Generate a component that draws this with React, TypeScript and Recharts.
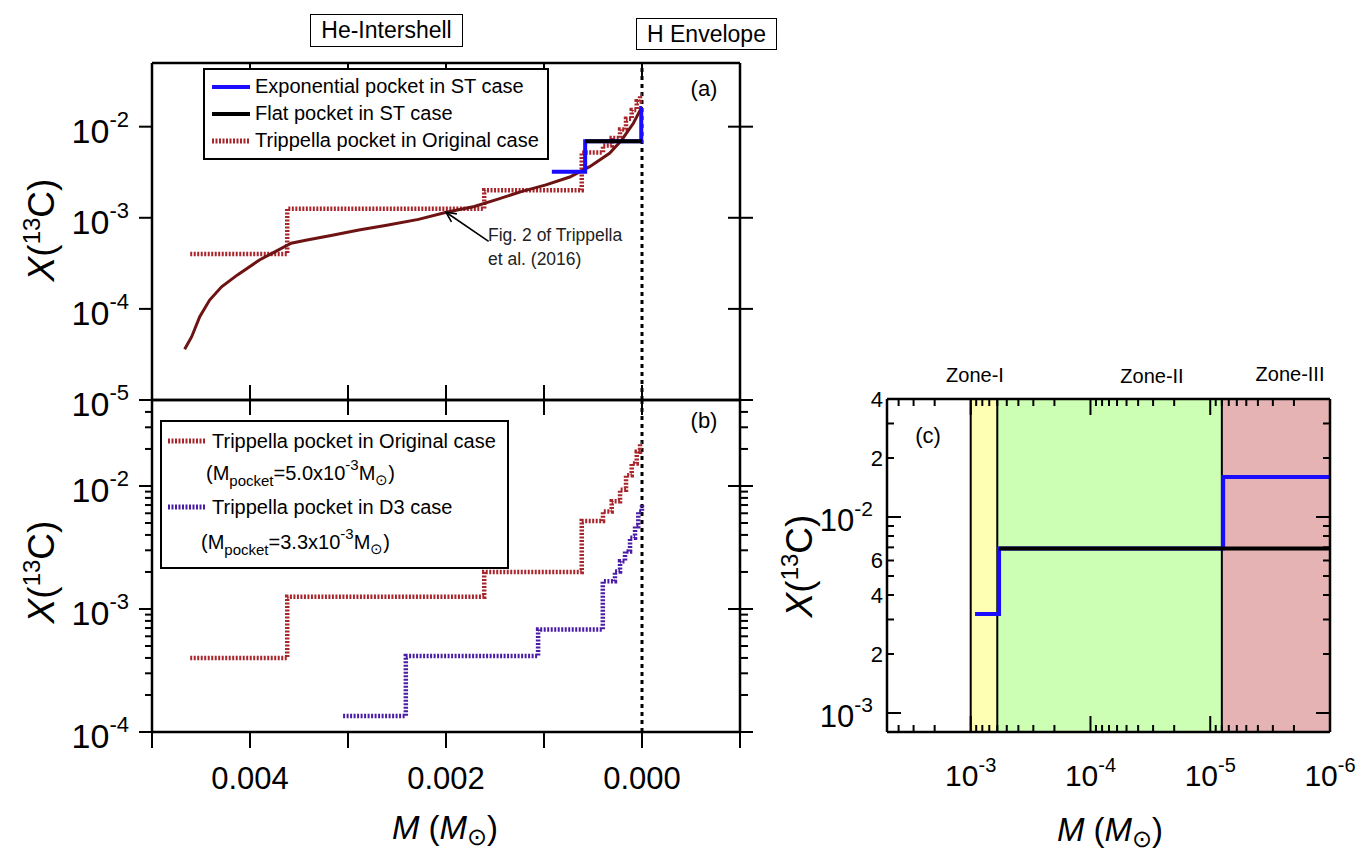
import { LineChart, Line, XAxis, YAxis, ReferenceLine, ReferenceArea, Legend } from 'recharts'

const FONT = '"Liberation Sans", Arial, Helvetica, sans-serif'
const BLUE = '#1a0dff'
const RED = '#a8252b'
const PURPLE = '#4a1ca6'
const CURVE = '#6e1313'

// Fig. 2 of Trippella et al. (2016): mass below the H envelope (Msun) vs X(13C)
const fig2M = [0.004667, 0.004595, 0.004513, 0.004412, 0.00429, 0.004128, 0.003904, 0.003742, 0.00358, 0.003418, 0.003173, 0.002889, 0.002605, 0.002281, 0.001996, 0.001711, 0.001469, 0.001224, 0.00098, 0.000737, 0.000534, 0.000331, 0.000209, 0.000088, 0]
const fig2X = [3.6e-5, 4.95e-5, 8.2e-5, 1.25e-4, 1.75e-4, 2.36e-4, 3.44e-4, 4.25e-4, 5.25e-4, 5.7e-4, 6.4e-4, 7.35e-4, 8.3e-4, 9.6e-4, 1.15e-3, 1.33e-3, 1.6e-3, 1.95e-3, 2.3e-3, 2.8e-3, 3.64e-3, 5.1e-3, 7.1e-3, 1.09e-2, 1.66e-2]

// step pockets: start of each step (mass) and its level
const origM = [0.00461, 0.00362, 0.00161, 0.000615, 0.000398, 0.000309, 0.000224, 0.000163, 0.000105, 0.000054, 0.00002, 0]
const origX = [4.0e-4, 1.26e-3, 2.0e-3, 5.2e-3, 6.2e-3, 7.5e-3, 9.3e-3, 1.22e-2, 1.52e-2, 1.9e-2, 2.2e-2, 2.2e-2]
const d3M = [0.00305, 0.00241, 0.00106, 0.0004, 0.000276, 0.000224, 0.000173, 0.000122, 0.000071, 0.000038, 0]
const d3X = [1.35e-4, 4.15e-4, 6.8e-4, 1.68e-3, 2.02e-3, 2.44e-3, 2.94e-3, 3.8e-3, 4.7e-3, 6.2e-3, 7.0e-3]
const expM = [9.2e-4, 5.8e-4, 7.8e-6, 1e-6]
const expX = [3.2e-3, 6.9e-3, 1.6e-2, 1.6e-2]
const flatM = [5.8e-4, 1e-6]
const flatX = [6.9e-3, 6.9e-3]

// zones of panel (c)
const zoneEdges = [1e-3, 6e-4, 8e-6, 1e-6]
const zoneColors = ['#ffffb4', '#ccffb4', '#e5b3b3']
const zoneNames = ['Zone-I', 'Zone-II', 'Zone-III']

const massTicks = [0.005, 0.004, 0.003, 0.002, 0.001, 0, -0.001]
const massLabels = [0.004, 0.002, 0]
const aYTicks = [1e-5, 1e-4, 1e-3, 1e-2]
const bYTicks = [1e-4, 2e-4, 3e-4, 4e-4, 5e-4, 6e-4, 7e-4, 8e-4, 9e-4, 1e-3, 2e-3, 3e-3, 4e-3, 5e-3, 6e-3, 7e-3, 8e-3, 9e-3, 1e-2, 2e-2, 3e-2, 4e-2, 5e-2]
const cXTicks = [1e-6, 2e-6, 3e-6, 4e-6, 5e-6, 6e-6, 7e-6, 8e-6, 9e-6, 1e-5, 2e-5, 3e-5, 4e-5, 5e-5, 6e-5, 7e-5, 8e-5, 9e-5, 1e-4, 2e-4, 3e-4, 4e-4, 5e-4, 6e-4, 7e-4, 8e-4, 9e-4, 1e-3, 2e-3, 3e-3, 4e-3, 5e-3]
const cYTicks = [1e-3, 2e-3, 3e-3, 4e-3, 5e-3, 6e-3, 7e-3, 8e-3, 9e-3, 1e-2, 2e-2, 3e-2, 4e-2]
const cYDigits = [4e-2, 2e-2, 6e-3, 4e-3, 2e-3]

const pts = (ms: number[], xs: number[]) => ms.map((m, i) => ({ m, x: xs[i] }))
const isMajor = (v: number) => {
  const l = Math.log10(v)
  return Math.abs(l - Math.round(l)) < 1e-6
}
const near = (a: number, b: number) => Math.abs(a - b) < 1e-9

const Pow = ({ x, y, v, anchor, size, sup }: any) => (
  <text x={x} y={y} textAnchor={anchor} fontFamily={FONT} fontSize={size} fill="#000" stroke="none">
    <tspan>10</tspan>
    <tspan fontSize={sup} dy={-size * 0.47}>{String(Math.round(Math.log10(v)))}</tspan>
  </text>
)

// tick renderer: [inside, outside] lengths for major / minor ticks
function makeTick(side: string, major: number[], minor: number[], log: boolean, label?: (v: number, x: number, y: number) => any) {
  return (props: any) => {
    const { x, y, payload } = props
    const v = payload.value
    const [inn, out] = !log || isMajor(v) ? major : minor
    let seg = { x1: x, x2: x, y1: y, y2: y }
    if (side === 'left') seg = { x1: x - out, x2: x + inn, y1: y, y2: y }
    if (side === 'right') seg = { x1: x - inn, x2: x + out, y1: y, y2: y }
    if (side === 'top') seg = { x1: x, x2: x, y1: y - out, y2: y + inn }
    if (side === 'bottom') seg = { x1: x, x2: x, y1: y - inn, y2: y + out }
    return (
      <g>
        <line {...seg} stroke="#000" strokeWidth={2} />
        {label ? label(v, x, y) : null}
      </g>
    )
  }
}

const powLeft = (v: number, x: number, y: number) =>
  isMajor(v) ? <Pow x={x - 23} y={y + 16} v={v} anchor="end" size={34} sup={22} /> : null
const massLabel = (v: number, x: number, y: number) =>
  massLabels.some((m) => near(m, v)) ? (
    <text x={x} y={y + 57} textAnchor="middle" fontFamily={FONT} fontSize={31} fill="#000">{v.toFixed(3)}</text>
  ) : null
const cYLabel = (v: number, x: number, y: number) => {
  if (isMajor(v)) return <Pow x={x - 14} y={y + 14} v={v} anchor="end" size={31} sup={21} />
  if (cYDigits.some((d) => near(d, v))) {
    const d = Math.round(v / Math.pow(10, Math.floor(Math.log10(v) + 1e-9)))
    return <text x={x - 4} y={y + 8} textAnchor="end" fontFamily={FONT} fontSize={22} fill="#000">{d}</text>
  }
  return null
}
const cXLabel = (v: number, x: number, y: number) =>
  isMajor(v) && v < 2e-3 ? <Pow x={x} y={y + 54} v={v} anchor="middle" size={30} sup={20} /> : null

const Arrow = (p: any) => {
  const { x1, y1, x2, y2 } = p
  const a = Math.atan2(y2 - y1, x2 - x1)
  const L = 11
  const w = 0.45
  return (
    <g stroke="#000" strokeWidth={1.6} fill="none">
      <line x1={x1} y1={y1} x2={x2} y2={y2} />
      <polyline points={`${x2 - L * Math.cos(a - w)},${y2 - L * Math.sin(a - w)} ${x2},${y2} ${x2 - L * Math.cos(a + w)},${y2 - L * Math.sin(a + w)}`} />
    </g>
  )
}

// axes are 1px thick boxes (recharts skips 0-sized axes), margins are reduced by 1 to compensate
const axisLine = { stroke: '#000', strokeWidth: 2.5 }
const commonX = { dataKey: 'm', type: 'number' as const, domain: [-0.001, 0.005], reversed: true, ticks: massTicks, interval: 0 as const, height: 1, tickSize: 0, tickMargin: 0, tickLine: false, axisLine, allowDataOverflow: true }
const logY = { type: 'number' as const, scale: 'log' as const, interval: 0 as const, width: 1, tickSize: 0, tickMargin: 0, tickLine: false, axisLine, allowDataOverflow: true }

const Sample = ({ color, dash }: { color: string; dash?: string }) => (
  <svg width={38} height={10} style={{ flex: 'none' }}>
    <line x1={0} x2={38} y1={5} y2={5} stroke={color} strokeWidth={dash ? 5 : 4} strokeDasharray={dash} />
  </svg>
)

const row = { display: 'flex', alignItems: 'center', gap: 5 }

const LegendA = () => (
  <div style={{ border: '2px solid #000', background: '#fff', padding: '3px 8px 4px 7px', fontFamily: FONT, fontSize: 20, lineHeight: '27px', color: '#000' }}>
    <div style={row}><Sample color={BLUE} />Exponential pocket in ST case</div>
    <div style={row}><Sample color="#000" />Flat pocket in ST case</div>
    <div style={row}><Sample color={RED} dash="2 1.5" />Trippella pocket in Original case</div>
  </div>
)

const shift = (top: number) => ({ fontSize: 15, position: 'relative' as const, top })
const MPocket = ({ val }: { val: string }) => (
  <span>
    (M<span style={shift(6)}>pocket</span>={val}x10<span style={shift(-10)}>-3</span>M<span style={shift(5)}>⊙</span>)
  </span>
)

const LegendB = () => (
  <div style={{ border: '2px solid #000', background: '#fff', width: 333, padding: '4px 6px 3px 6px', fontFamily: FONT, fontSize: 20, lineHeight: '30px', color: '#000' }}>
    <div style={{ ...row, gap: 6 }}><Sample color={RED} dash="2 1.5" />Trippella pocket in Original case</div>
    <div style={{ paddingLeft: 38, lineHeight: '34px' }}><MPocket val="5.0" /></div>
    <div style={{ ...row, gap: 6 }}><Sample color={PURPLE} dash="2 1.5" />Trippella pocket in D3 case</div>
    <div style={{ paddingLeft: 33, lineHeight: '40px' }}><MPocket val="3.3" /></div>
  </div>
)

const Abs = ({ x, y, size, children, style }: any) => (
  <div style={{ position: 'absolute', left: x, top: y, transform: 'translate(-50%, -50%)', whiteSpace: 'nowrap', fontFamily: FONT, fontSize: size, color: '#000', ...style }}>
    {children}
  </div>
)

const YTitle = ({ x, y }: { x: number; y: number }) => (
  <Abs x={x} y={y} size={37} style={{ transform: 'translate(-50%, -50%) rotate(-90deg)' }}>
    <i>X</i>(<span style={{ fontSize: 24, position: 'relative', top: -14 }}>13</span>C)
  </Abs>
)
const XTitle = ({ x, y }: { x: number; y: number }) => (
  <Abs x={x} y={y} size={33}>
    <i>M</i> (<i>M</i><span style={{ fontSize: 24, position: 'relative', top: 6 }}>⊙</span>)
  </Abs>
)

const Box = ({ x, y, w, h, children }: any) => (
  <div style={{ position: 'absolute', left: x, top: y, width: w, height: h, boxSizing: 'border-box', border: '1.5px solid #000', display: 'flex', alignItems: 'center', justifyContent: 'center', fontFamily: FONT, fontSize: 23, background: '#fff' }}>
    {children}
  </div>
)

export default function App() {
  return (
    <div style={{ position: 'absolute', left: 0, top: 0, width: 1368, height: 855, background: '#fff', overflow: 'hidden' }}>
      {/* panel (a): plot 152..740 x 63..400 */}
      <div style={{ position: 'absolute', left: 0, top: 0 }}>
        <LineChart width={770} height={440} margin={{ top: 62, right: 29, bottom: 39, left: 151 }}>
          <XAxis {...commonX} tick={makeTick('bottom', [15, 0], [15, 0], false)} />
          <XAxis {...commonX} xAxisId="t" orientation="top" tick={makeTick('top', [15, 0], [15, 0], false)} />
          <YAxis {...logY} domain={[1e-5, 0.05]} ticks={aYTicks} tick={makeTick('left', [0, 13], [0, 7], true, powLeft)} />
          <YAxis {...logY} yAxisId="r" orientation="right" domain={[1e-5, 0.05]} ticks={aYTicks} tick={makeTick('right', [12, 13], [0, 7], true)} />
          <ReferenceLine x={0} stroke="#000" strokeWidth={3} strokeDasharray="4 4" />
          <Line data={pts(origM, origX)} dataKey="x" type="stepAfter" stroke={RED} strokeWidth={4.5} strokeDasharray="2 1.5" dot={false} isAnimationActive={false} />
          <Line data={pts(fig2M, fig2X)} dataKey="x" type="linear" stroke={CURVE} strokeWidth={3} dot={false} isAnimationActive={false} />
          <Line data={pts(expM, expX)} dataKey="x" type="stepAfter" stroke={BLUE} strokeWidth={4} dot={false} isAnimationActive={false} />
          <Line data={pts(flatM, flatX)} dataKey="x" type="linear" stroke="#000" strokeWidth={4} dot={false} isAnimationActive={false} />
          <ReferenceLine segment={[{ x: 0.001565, y: 5.5e-4 }, { x: 0.002, y: 1.15e-3 }]} shape={Arrow} />
          <Legend layout="horizontal" verticalAlign="middle" align="center" wrapperStyle={{ left: 203, top: 68, width: 'auto' }} content={() => <LegendA />} />
        </LineChart>
      </div>

      {/* panel (b): plot 152..740 x 400..732 */}
      <div style={{ position: 'absolute', left: 0, top: 380 }}>
        <LineChart width={770} height={475} margin={{ top: 19, right: 29, bottom: 122, left: 151 }}>
          <XAxis {...commonX} tick={makeTick('bottom', [0, 16], [0, 16], false, massLabel)} />
          <XAxis {...commonX} xAxisId="t" orientation="top" tick={makeTick('top', [15, 0], [15, 0], false)} />
          <YAxis {...logY} domain={[1e-4, 0.05]} ticks={bYTicks} tick={makeTick('left', [0, 13], [0, 7], true, powLeft)} />
          <YAxis {...logY} yAxisId="r" orientation="right" domain={[1e-4, 0.05]} ticks={bYTicks} tick={makeTick('right', [12, 13], [0, 8], true)} />
          <ReferenceLine x={0} stroke="#000" strokeWidth={3} strokeDasharray="4 4" />
          <Line data={pts(origM, origX)} dataKey="x" type="stepAfter" stroke={RED} strokeWidth={4.5} strokeDasharray="2 1.5" dot={false} isAnimationActive={false} />
          <Line data={pts(d3M, d3X)} dataKey="x" type="stepAfter" stroke={PURPLE} strokeWidth={4.5} strokeDasharray="2 1.5" dot={false} isAnimationActive={false} />
          <Legend layout="horizontal" verticalAlign="middle" align="center" wrapperStyle={{ left: 160, top: 40, width: 'auto' }} content={() => <LegendB />} />
        </LineChart>
      </div>

      {/* panel (c): plot 887..1330 x 399..732 */}
      <div style={{ position: 'absolute', left: 780, top: 340 }}>
        <LineChart width={588} height={515} margin={{ top: 58, right: 37, bottom: 122, left: 106 }}>
          {zoneColors.map((c, i) => (
            <ReferenceArea key={c} x1={zoneEdges[i]} x2={zoneEdges[i + 1]} fill={c} fillOpacity={1} stroke="none" ifOverflow="hidden" />
          ))}
          {zoneEdges.slice(0, 3).map((z) => (
            <ReferenceLine key={z} x={z} stroke="#000" strokeWidth={2} />
          ))}
          <XAxis dataKey="m" type="number" scale="log" domain={[1e-6, 5e-3]} reversed ticks={cXTicks} interval={0} height={1} tickSize={0} tickMargin={0} tickLine={false} axisLine={axisLine} allowDataOverflow tick={makeTick('bottom', [16, 0], [7, 0], true, cXLabel)} />
          <XAxis xAxisId="t" orientation="top" dataKey="m" type="number" scale="log" domain={[1e-6, 5e-3]} reversed ticks={cXTicks} interval={0} height={1} tickSize={0} tickMargin={0} tickLine={false} axisLine={axisLine} allowDataOverflow tick={makeTick('top', [16, 0], [7, 0], true)} />
          <YAxis {...logY} domain={[8e-4, 4e-2]} ticks={cYTicks} tick={makeTick('left', [14, 0], [7, 0], true, cYLabel)} />
          <YAxis {...logY} yAxisId="r" orientation="right" domain={[8e-4, 4e-2]} ticks={cYTicks} tick={makeTick('right', [14, 0], [7, 0], true)} />
          <Line data={pts(expM, expX)} dataKey="x" type="stepAfter" stroke={BLUE} strokeWidth={4} dot={false} isAnimationActive={false} />
          <Line data={pts(flatM, flatX)} dataKey="x" type="linear" stroke="#000" strokeWidth={4} dot={false} isAnimationActive={false} />
        </LineChart>
      </div>

      <Box x={310} y={14} w={153} h={33}>He-Intershell</Box>
      <Box x={636} y={18} w={141} h={32}>H Envelope</Box>

      <Abs x={704} y={89} size={22}>(a)</Abs>
      <Abs x={704} y={421} size={22}>(b)</Abs>
      <Abs x={928} y={436} size={22}>(c)</Abs>

      <div style={{ position: 'absolute', left: 488, top: 223, fontFamily: FONT, fontSize: 17.5, lineHeight: '24px', color: '#222' }}>
        Fig. 2 of Trippella
        <br />
        et al. (2016)
      </div>

      {zoneNames.map((z, i) => (
        <Abs key={z} x={[975, 1152, 1290][i]} y={[375, 376, 374][i]} size={20}>{z}</Abs>
      ))}

      <YTitle x={42} y={230} />
      <YTitle x={42} y={572} />
      <YTitle x={800} y={566} />
      <XTitle x={445} y={828} />
      <XTitle x={1110} y={830} />
    </div>
  )
}
